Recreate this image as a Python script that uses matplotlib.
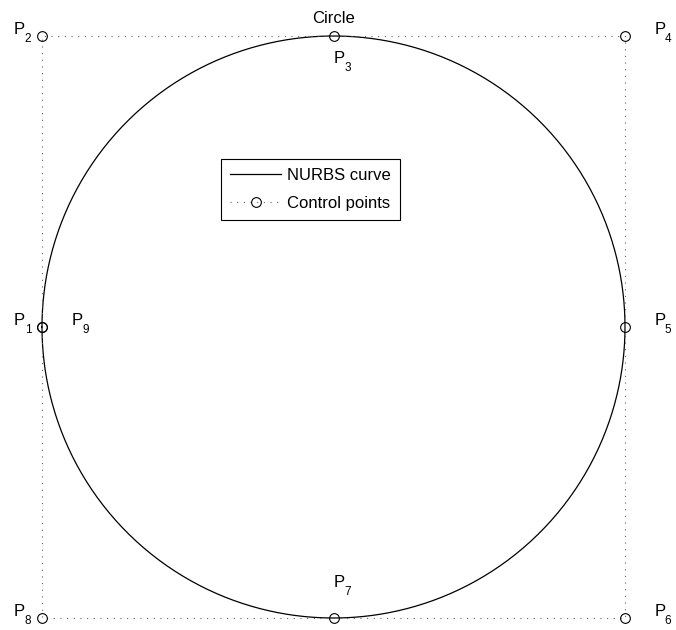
import numpy as np
import matplotlib
matplotlib.use('Agg')
import matplotlib.pyplot as plt

# control polygon of the circle (P1 .. P9), weights of the rational quadratic NURBS
ctrl_x = [-1, -1, 0, 1, 1, 1, 0, -1, -1]
ctrl_y = [0, 1, 1, 1, 0, -1, -1, -1, 0]
weights = [1, 0.7071, 1, 0.7071, 1, 0.7071, 1, 0.7071, 1]
knots = [0, 0, 0, 0.25, 0.25, 0.5, 0.5, 0.75, 0.75, 1, 1, 1]
point_index = ['1', '2', '3', '4', '5', '6', '7', '8', '9']
# label offset (dx, dy) from each control point
label_dx = [-0.096, -0.096, 0.0, 0.1, 0.1, 0.1, 0.0, -0.096, 0.103]
label_dy = [0.006, 0.006, -0.093, 0.006, 0.006, 0.006, 0.107, 0.006, 0.006]

plt.rcParams['font.family'] = ['Liberation Sans', 'DejaVu Sans']


def nurbs_curve(px, py, w, n=100):
    # the knot vector has double interior knots, so every span is a rational quadratic bezier
    px, py, w = map(np.asarray, (px, py, w))
    xs, ys = [], []
    t = np.linspace(0, 1, n)
    b = [(1 - t) ** 2, 2 * t * (1 - t), t ** 2]
    for s in range(0, len(px) - 2, 2):
        num_x = sum(w[s + j] * px[s + j] * b[j] for j in range(3))
        num_y = sum(w[s + j] * py[s + j] * b[j] for j in range(3))
        den = sum(w[s + j] * b[j] for j in range(3))
        xs.append(num_x / den)
        ys.append(num_y / den)
    return np.concatenate(xs), np.concatenate(ys)


def main():
    fig = plt.figure(figsize=(6.76, 6.30), dpi=100)
    ax = fig.add_axes([42 / 676, 12 / 630, 583 / 676, 582 / 630])

    cx, cy = nurbs_curve(ctrl_x, ctrl_y, weights)
    ax.plot(cx, cy, color='black', linewidth=0.9, label='NURBS curve', clip_on=False)
    ax.plot(ctrl_x, ctrl_y, linestyle=(0, (1, 5)), color='#606060', linewidth=0.8,
            marker='o', markersize=7, markerfacecolor='none',
            markeredgecolor='black', markeredgewidth=0.8,
            label='Control points', clip_on=False)

    for i in range(len(ctrl_x)):
        lx = ctrl_x[i] + label_dx[i]
        ly = ctrl_y[i] + label_dy[i]
        ax.text(lx, ly, 'P', fontsize=12, ha='left', va='baseline', clip_on=False)
        # subscript, matlab style
        ax.annotate(point_index[i], xy=(lx, ly), xytext=(7.6, -5.5),
                    textcoords='offset points', fontsize=8.5,
                    ha='left', va='baseline', annotation_clip=False)

    ax.set_xlim(-1, 1)
    ax.set_ylim(-1, 1)
    ax.axis('off')
    ax.set_title('Circle', fontsize=12, pad=9)

    leg = ax.legend(loc='upper left', bbox_to_anchor=(0.307, 0.789),
                    borderaxespad=0, fontsize=12, handlelength=3.05,
                    fancybox=False, framealpha=1, edgecolor='black',
                    labelspacing=0.77, borderpad=0.56, handletextpad=0.36)
    leg.get_frame().set_linewidth(0.8)

    plt.savefig('out.png', dpi=100)


if __name__ == '__main__':
    main()
